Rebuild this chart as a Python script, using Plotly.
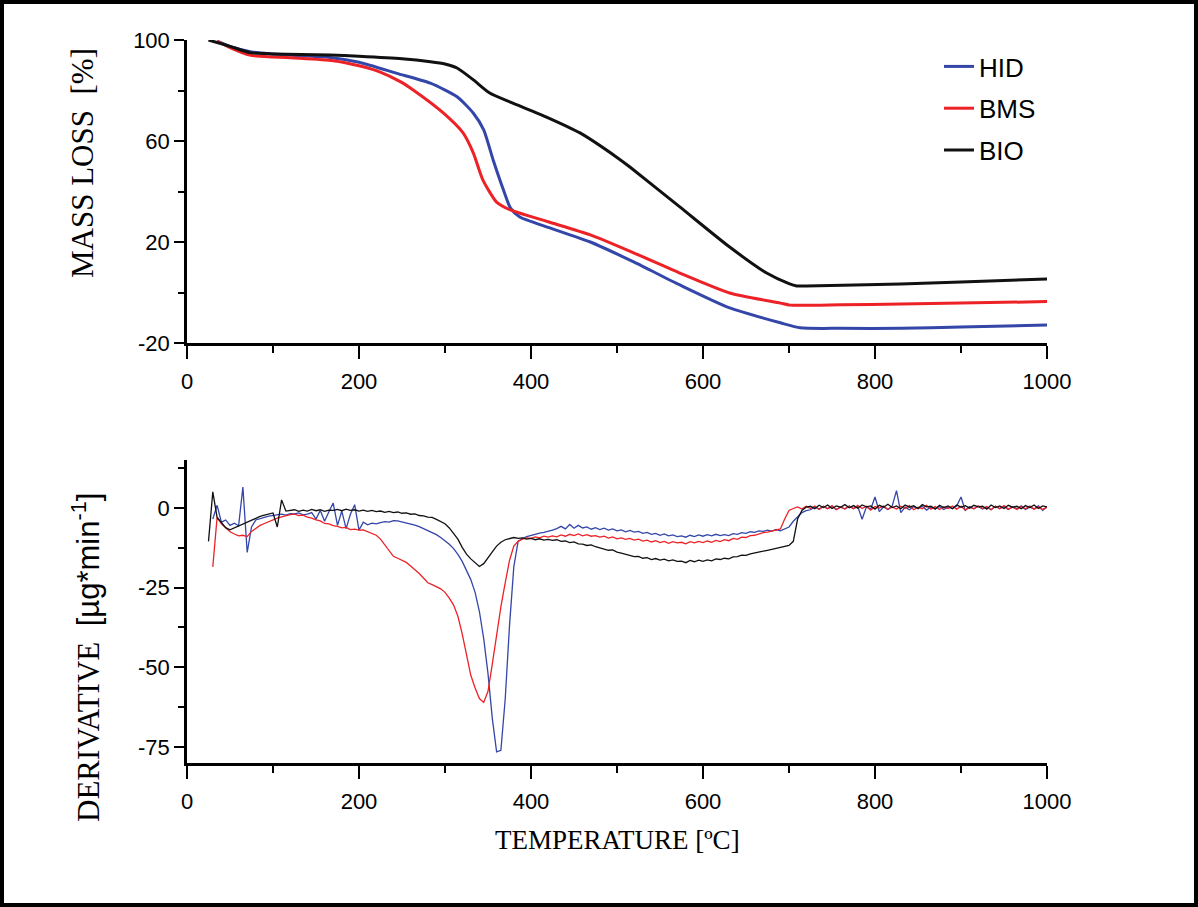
import plotly.graph_objects as go

# ---------------- TGA (mass loss) data ----------------
hid_tga_temp = [35, 50, 75, 100, 130, 166, 200, 244, 283, 314, 333, 345, 356, 368, 376, 387,
                420, 469, 520, 573, 631, 690, 713, 760, 830, 900, 1000]
hid_tga_mass = [99.5, 97.5, 95.3, 94.5, 93.8, 93.1, 91.2, 86.8, 82.9, 77.5, 71.0, 64.4, 52.5, 40.6, 33.5, 29.9,
                25.8, 20.0, 12.0, 3.0, -6.1, -12.0, -14.0, -14.2, -14.2, -13.7, -12.9]

bms_tga_temp = [35, 50, 73, 100, 130, 170, 200, 224, 248, 263, 298, 321, 333, 344, 360, 376,
                420, 469, 520, 573, 631, 690, 701, 760, 830, 900, 1000]
bms_tga_mass = [99.5, 97.0, 94.0, 93.3, 92.8, 91.8, 89.8, 87.4, 83.5, 80.2, 71.1, 63.2, 55.2, 44.6, 35.8, 32.7,
                28.0, 22.8, 15.6, 7.7, -0.2, -4.2, -5.0, -4.9, -4.6, -4.2, -3.6]

bio_tga_temp = [25, 50, 73, 100, 166, 200, 250, 283, 300, 314, 333, 352, 376, 418, 457, 500,
                515, 573, 631, 674, 700, 709, 720, 830, 900, 1000]
bio_tga_mass = [100, 97.5, 95.0, 94.5, 94.1, 93.6, 92.6, 91.4, 90.5, 88.9, 84.2, 79.0, 75.4, 69.5, 63.2, 53.5,
                49.7, 33.9, 18.0, 7.7, 3.5, 2.6, 2.6, 3.4, 4.2, 5.3]

# ---------------- DTG (derivative) data, 25..1000 step 5 ----------------
dtg_temp = list(range(25, 1001, 5))

hid_dtg = [
    None, -3.5, 0.8, -4.5, -3.8, -5.5, -4.8, -5.6, 6.5, -14.0,
    -6.0, -3.8, -3.3, -3.0, -2.6, -2.4, -2.2, -2.0, -2.3, -1.8,
    -1.9, -1.6, -2.2, -2.0, -1.5, -3.5, -0.8, -4.2, -1.2, 1.5,
    -5.5, -1.0, -6.5, -2.0, 1.0, -7.0, -4.5, -5.3, -4.8, -5.0,
    -4.6, -4.3, -4.5, -4.0, -4.1, -4.4, -4.6, -5.0, -5.4, -5.9,
    -6.5, -7.0, -7.6, -8.4, -9.3, -10.3, -11.4, -12.8, -14.6, -16.8,
    -19.5, -22.5, -26.5, -32.5, -41.0, -52.0, -66.0, -76.5, -76.0, -60.0,
    -37.0, -18.5, -10.5, -9.6, -9.0, -8.6, -8.4, -7.9, -7.7, -7.4,
    -7.0, -6.5, -5.8, -6.6, -5.2, -6.4, -5.5, -6.3, -6.0, -6.7,
    -6.2, -6.8, -6.4, -7.0, -6.6, -7.2, -6.9, -7.5, -7.1, -7.6,
    -7.4, -8.0, -7.7, -8.3, -8.0, -8.6, -8.2, -8.8, -8.5, -9.0,
    -8.8, -9.2, -8.6, -9.0, -8.5, -8.9, -8.4, -8.8, -8.3, -8.7,
    -8.4, -8.7, -8.1, -8.3, -7.8, -8.0, -7.5, -7.7, -7.2, -7.4,
    -7.0, -7.3, -6.8, -7.2, -6.5, -6.0, -4.2, -2.8, -1.5, -0.9,
    -0.6, 0.3, -0.4, 0.5, -0.2, 0.4, -0.5, 0.2, -0.3, 0.6,
    -0.2, 0.4, -3.6, 0.3, -0.4, 3.4, -1.2, 0.3, -0.5, 0.6,
    5.4, -1.5, 0.2, -0.6, 0.4, -0.3, 0.5, -0.7, 0.3, -0.2,
    0.4, -0.5, 0.3, -0.2, 0.6, 3.4, -0.8, 0.4, -0.3, 0.5,
    -0.4, 0.3, -0.6, 0.5, -0.2, 0.4, -0.5, 0.3, -0.3, 0.6,
    -0.5, 0.2, -0.4, 0.6, -0.8, 0.3,
]

bms_dtg = [
    None, -18.5, -3.0, -5.0, -6.2, -7.5, -8.2, -8.8, -8.6, -9.0,
    -7.4, -6.3, -5.5, -4.9, -4.3, -3.8, -3.2, -2.8, -2.4, -2.1,
    -2.0, -2.4, -2.3, -2.9, -3.2, -3.8, -4.1, -4.9, -5.0, -5.6,
    -5.8, -6.3, -6.1, -6.8, -6.7, -7.0, -6.9, -7.5, -7.9, -8.6,
    -9.8, -11.5, -13.5, -15.2, -15.8, -16.5, -17.1, -18.2, -19.3, -20.6,
    -22.0, -23.5, -24.1, -24.8, -25.4, -26.5, -28.3, -30.5, -34.0, -39.5,
    -46.0, -52.5, -56.5, -59.8, -61.0, -57.5, -49.0, -39.5, -31.0, -23.5,
    -16.5, -12.0, -10.5, -9.8, -9.4, -9.6, -9.1, -9.4, -8.9, -9.2,
    -8.8, -9.1, -8.5, -8.9, -8.3, -8.7, -8.2, -8.8, -8.4, -8.9,
    -8.7, -9.2, -8.9, -9.5, -9.1, -9.7, -9.4, -9.9, -9.6, -10.1,
    -9.8, -10.4, -10.1, -10.7, -10.3, -10.9, -10.5, -11.1, -10.6, -11.0,
    -10.8, -11.3, -10.6, -11.0, -10.5, -10.9, -10.4, -10.8, -10.2, -10.6,
    -10.0, -10.3, -9.6, -9.9, -9.2, -9.3, -8.7, -8.6, -8.1, -7.8,
    -7.6, -7.2, -7.0, -6.6, -3.5, -0.8, -0.2, 0.3, -0.4, 0.5,
    -0.2, 0.6, -0.5, 0.4, -0.3, 0.7, -0.6, 0.3, -0.4, 0.5,
    -0.3, 0.8, -0.2, 0.5, -0.7, 0.4, -0.1, 0.6, -0.5, 0.3,
    -0.4, 0.5, -0.2, 0.7, -0.6, 0.2, -0.3, 0.8, -0.4, 0.4,
    -0.5, 0.3, -0.2, 0.6, -0.4, 0.5, -0.7, 0.2, -0.3, 0.6,
    -0.2, 0.4, -0.6, 0.5, -0.3, 0.7, -0.4, 0.2, -0.5, 0.4,
    -0.3, 0.6, -0.4, 0.3, -0.5, 0.2,
]

bio_dtg = [
    -10.5, 5.0, -3.0, -4.5, -6.2, -6.9, -6.3, -5.6, -5.0, -4.4,
    -3.8, -3.1, -2.7, -2.3, -1.9, -1.6, -6.0, 2.5, -1.0, -0.9,
    -0.6, -1.1, -0.7, -1.0, -0.5, -0.9, -0.6, -1.1, -0.7, -0.8,
    -0.5, -0.9, -0.4, -0.8, -0.6, -1.0, -0.7, -1.1, -0.8, -1.2,
    -1.0, -1.4, -1.1, -1.5, -1.3, -1.7, -1.6, -2.0, -1.9, -2.4,
    -2.5, -2.9, -3.0, -3.6, -4.2, -5.0, -6.3, -7.9, -9.8, -12.4,
    -14.5, -16.0, -17.2, -18.4, -17.5, -15.5, -13.8, -12.0, -10.8, -10.0,
    -9.6, -9.3, -9.6, -9.4, -9.8, -9.6, -10.0, -9.7, -10.1, -9.9,
    -10.2, -10.0, -10.5, -10.4, -10.9, -10.7, -11.3, -11.4, -11.8, -11.6,
    -12.2, -12.6, -12.9, -13.3, -13.2, -13.9, -14.2, -14.6, -14.9, -15.3,
    -15.2, -15.8, -15.6, -16.2, -15.9, -16.4, -16.1, -16.6, -16.3, -16.8,
    -16.7, -17.2, -16.5, -16.9, -16.4, -16.8, -16.3, -16.6, -16.0, -16.2,
    -15.8, -16.0, -15.4, -15.3, -14.8, -14.9, -14.4, -14.2, -13.9, -13.6,
    -13.3, -13.0, -12.6, -12.5, -12.1, -11.8, -10.5, -3.5, -0.8, 0.2,
    0.5, -0.3, 0.8, 0.1, 0.9, -0.2, 0.6, 0.2, 1.0, 0.0,
    0.7, -0.1, 0.9, 0.3, 0.6, -0.4, 0.8, 0.2, 1.1, 0.1,
    0.6, -0.3, 0.9, 0.2, 0.7, -0.2, 1.0, 0.3, 0.5, -0.4,
    0.8, 0.1, 0.6, -0.3, 0.9, 0.2, 0.7, -0.1, 0.8, 0.3,
    0.5, -0.4, 0.9, 0.1, 0.6, -0.2, 0.8, 0.2, 0.5, -0.3,
    0.7, 0.1, 0.9, -0.2, 0.6, 0.3,
]

series_names = ["HID", "BMS", "BIO"]
series_colors = ["#3446a8", "#ec2227", "#111111"]

x_ticks = [0, 200, 400, 600, 800, 1000]
tga_ticks = [-20, 20, 60, 100]
dtg_ticks = [-75, -50, -25, 0]

W, H = 1198, 907
ML, MR, MT, MB = 187, 151, 40, 144
PW, PH = W - ML - MR, H - MT - MB

def px_x(p):
    return (p - ML) / PW

def px_y(p):
    return (H - MB - p) / PH

fig = go.Figure()

tga = [(hid_tga_temp, hid_tga_mass), (bms_tga_temp, bms_tga_mass), (bio_tga_temp, bio_tga_mass)]
for i, (t, m) in enumerate(tga):
    fig.add_trace(go.Scatter(
        x=t, y=m, mode="lines", name=series_names[i],
        line=dict(color=series_colors[i], width=3, shape="spline", smoothing=0.6),
        xaxis="x", yaxis="y", legendgroup=series_names[i], showlegend=True))

dtg = [hid_dtg, bms_dtg, bio_dtg]
for i in range(3):
    fig.add_trace(go.Scatter(
        x=dtg_temp, y=dtg[i], mode="lines", name=series_names[i],
        line=dict(color=series_colors[i], width=1.3),
        xaxis="x2", yaxis="y2", showlegend=False))

tick_font = dict(family="Liberation Sans, Arial, sans-serif", size=22, color="black")
title_font = dict(family="Liberation Serif, Times New Roman, serif", size=27, color="black")
rot_title_font = dict(family="Liberation Serif, Times New Roman, serif", size=31, color="black")

common_x = dict(range=[0, 1000], tickvals=x_ticks, ticktext=[str(v) for v in x_ticks],
                showline=True, linecolor="black", linewidth=2.5,
                ticks="outside", ticklen=13, tickwidth=2, tickcolor="black", showgrid=False,
                zeroline=False, tickfont=tick_font, ticklabelstandoff=4,
                minor=dict(ticks="outside", ticklen=7, tickwidth=2, tickcolor="black", dtick=100, tick0=0))
common_y = dict(showline=True, linecolor="black", linewidth=2.5, ticks="outside", ticklen=10, tickwidth=2,
                tickcolor="black", showgrid=False, zeroline=False, tickfont=tick_font)

top_bottom_px = 343
bot_top_px = 460

fig.update_layout(
    width=W, height=H,
    margin=dict(l=ML, r=MR, t=MT, b=MB),
    paper_bgcolor="white", plot_bgcolor="white",
    xaxis=dict(**common_x, domain=[0, 1], anchor="y"),
    yaxis=dict(**common_y, range=[-20, 100], tickvals=tga_ticks, ticktext=[str(v) for v in tga_ticks],
               domain=[px_y(top_bottom_px), 1], anchor="x",
               minor=dict(ticks="outside", ticklen=6, tickwidth=2, tickcolor="black", dtick=20, tick0=0)),
    xaxis2=dict(**common_x, domain=[0, 1], anchor="y2"),
    yaxis2=dict(**common_y, range=[-80, 15], tickvals=dtg_ticks, ticktext=[str(v) for v in dtg_ticks],
                domain=[0, px_y(bot_top_px)], anchor="x2",
                minor=dict(ticks="outside", ticklen=6, tickwidth=2, tickcolor="black", dtick=12.5, tick0=0)),
    legend=dict(x=px_x(939), y=px_y(43), xanchor="left", yanchor="top",
                font=dict(family="Liberation Sans, Arial, sans-serif", size=26, color="black"),
                bgcolor="rgba(0,0,0,0)", tracegroupgap=5, itemwidth=30),
    showlegend=True,
)

fig.add_annotation(text="MASS LOSS  [%]", textangle=-90, xref="paper", yref="paper",
                   x=px_x(83), y=px_y(163), showarrow=False, font=rot_title_font,
                   xanchor="center", yanchor="middle")
fig.add_annotation(text="DERIVATIVE  <span style='font-family:Liberation Sans, Arial, sans-serif'>[µg*min<sup>-1</sup>]</span>",
                   textangle=-90, xref="paper", yref="paper",
                   x=px_x(86), y=px_y(658), showarrow=False, font=rot_title_font,
                   xanchor="center", yanchor="middle")
fig.add_annotation(text="TEMPERATURE [ºC]", xref="paper", yref="paper",
                   x=px_x(617), y=px_y(840), showarrow=False, font=title_font,
                   xanchor="center", yanchor="middle")

# outer frame of the figure
fig.add_shape(type="rect", xref="paper", yref="paper",
              x0=px_x(2), x1=px_x(1196), y0=px_y(905), y1=px_y(2),
              line=dict(color="black", width=4), fillcolor="rgba(0,0,0,0)", layer="above")

fig.write_html("out.html")
